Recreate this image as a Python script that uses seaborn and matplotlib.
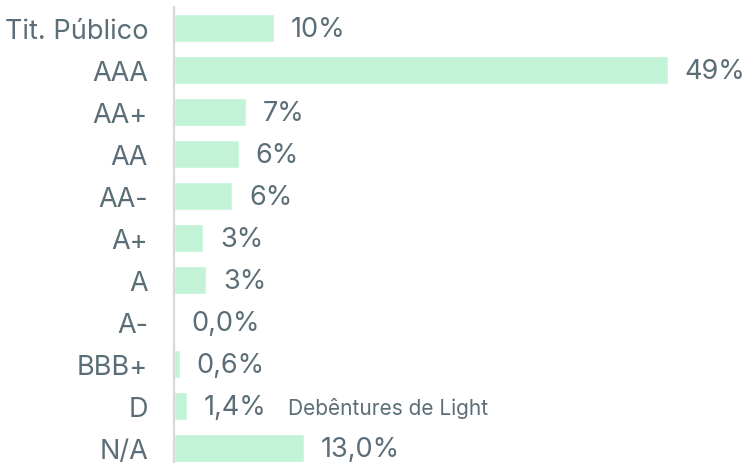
import matplotlib
matplotlib.use("Agg")
import matplotlib.pyplot as plt
import seaborn as sns
import pandas as pd

categories = ["Tit. Público", "AAA", "AA+", "AA", "AA-", "A+", "A", "A-", "BBB+", "D", "N/A"]
values = [9.9, 49.0, 7.1, 6.4, 5.8, 2.9, 3.2, 0.0, 0.55, 1.25, 12.9]
labels = ["10%", "49%", "7%", "6%", "6%", "3%", "3%", "0,0%", "0,6%", "1,4%", "13,0%"]
note_category = "D"
note_text = "Debêntures de Light"

sns.set_theme(style="white")
plt.rcParams["font.family"] = ["Inter", "DejaVu Sans"]

text_color = "#5b6e77"
bar_color = "#c3f3d6"

df = pd.DataFrame({"cat": categories, "val": values})

fig = plt.figure(figsize=(7.47, 4.64), dpi=100)
ax = fig.add_axes([174 / 747, 0.0, 573 / 747, 456 / 464])
sns.barplot(data=df, x="val", y="cat", color=bar_color, saturation=1,
            width=0.67, ax=ax, order=categories)

ax.set_xlim(0, 573 / 10.08)
ax.set_ylim(10.357, -0.5)
ax.set_xlabel("")
ax.set_ylabel("")
ax.set_xticks([])
for s in ["top", "right", "bottom"]:
    ax.spines[s].set_visible(False)
ax.spines["left"].set_color("#d9d9d9")
ax.spines["left"].set_linewidth(1.6)
ax.tick_params(axis="y", length=0, pad=18.7, labelsize=19.5, labelcolor=text_color)

for i, (v, lab) in enumerate(zip(values, labels)):
    ax.annotate(lab, xy=(v, i), xytext=(12.2, -1), textcoords="offset points",
                ha="left", va="center", fontsize=19.5, color=text_color)
    if categories[i] == note_category:
        ax.annotate(note_text, xy=(v, i), xytext=(73, -1), textcoords="offset points",
                    ha="left", va="center", fontsize=15, color=text_color)

fig.savefig("out.png", dpi=100)
